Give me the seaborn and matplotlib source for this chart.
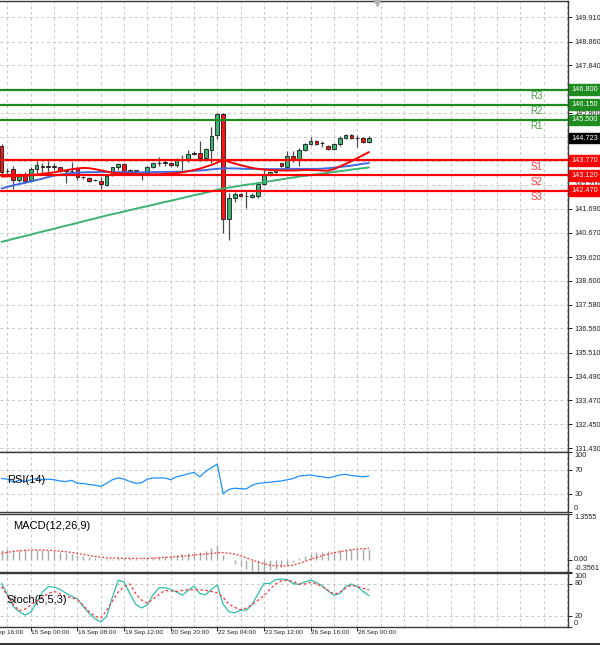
import numpy as np
import matplotlib
matplotlib.use("Agg")
import matplotlib.pyplot as plt
import matplotlib.transforms as mtransforms
from matplotlib.lines import Line2D
import seaborn as sns

# ------------------------------------------------------------------ data
bar_open = [
    144.40, 143.30, 143.38, 142.92, 143.17, 142.92, 143.38, 143.54, 143.47, 143.54,
    143.47, 143.34, 143.30, 143.42, 143.04, 143.02, 142.92, 142.90, 142.71, 143.14,
    143.47, 143.61, 143.32, 143.32, 143.18, 143.24, 143.47, 143.64, 143.64, 143.67,
    143.57, 143.78, 143.78, 144.10, 144.09, 143.85, 144.20, 144.85, 145.74, 141.23,
    142.14, 142.32, 142.24, 142.20, 142.25, 142.75, 143.16, 143.25, 143.64, 143.50,
    143.95, 143.78, 144.20, 144.47, 144.60, 144.50, 144.38, 144.27, 144.45, 144.73,
    144.86, 144.74, 144.72, 144.55]
bar_high = [
    144.45, 143.45, 143.52, 143.24, 143.25, 143.47, 143.74, 143.67, 143.74, 143.64,
    143.50, 143.38, 143.71, 143.50, 143.10, 143.05, 142.95, 143.04, 143.17, 143.50,
    143.67, 143.64, 143.38, 143.36, 143.21, 143.54, 143.67, 143.90, 143.78, 143.70,
    143.85, 144.00, 144.21, 144.16, 144.60, 144.30, 145.20, 145.80, 145.78, 142.35,
    142.40, 142.35, 142.50, 142.35, 142.85, 143.45, 143.30, 143.38, 143.66, 144.18,
    144.18, 144.30, 144.50, 144.75, 144.65, 144.60, 144.42, 144.50, 144.80, 144.90,
    144.88, 144.85, 144.77, 144.80]
bar_low = [
    143.15, 143.10, 142.55, 142.85, 142.80, 142.88, 143.24, 143.24, 143.28, 143.35,
    143.28, 142.78, 143.14, 142.92, 142.98, 142.85, 142.90, 142.55, 142.66, 143.10,
    143.35, 143.18, 143.18, 143.28, 142.92, 143.20, 143.44, 143.52, 143.52, 143.50,
    143.50, 143.35, 143.71, 143.98, 143.75, 143.78, 143.65, 144.70, 140.66, 140.35,
    141.99, 142.20, 141.73, 142.15, 142.15, 142.70, 143.10, 143.22, 143.50, 143.35,
    143.70, 143.52, 144.15, 144.42, 144.42, 144.35, 144.20, 144.22, 144.40, 144.70,
    144.70, 144.35, 144.50, 144.50]
bar_close = [
    143.28, 143.32, 142.92, 143.17, 142.90, 143.38, 143.57, 143.47, 143.54, 143.47,
    143.32, 143.31, 143.32, 143.04, 143.07, 142.88, 142.92, 142.74, 143.10, 143.47,
    143.60, 143.32, 143.33, 143.34, 143.20, 143.47, 143.64, 143.65, 143.71, 143.57,
    143.81, 143.84, 144.04, 144.02, 143.85, 144.25, 144.80, 145.74, 141.23, 142.14,
    142.32, 142.24, 142.25, 142.28, 142.75, 143.16, 143.27, 143.35, 143.52, 143.95,
    143.78, 144.21, 144.45, 144.60, 144.46, 144.49, 144.27, 144.45, 144.73, 144.86,
    144.73, 144.73, 144.55, 144.72]

ma_fast = [  # red
    143.07, 143.08, 143.08, 143.09, 143.11, 143.13, 143.16, 143.19, 143.22, 143.25,
    143.30, 143.34, 143.38, 143.42, 143.44, 143.43, 143.39, 143.34, 143.29, 143.24,
    143.21, 143.20, 143.19, 143.18, 143.17, 143.17, 143.17, 143.17, 143.19, 143.20,
    143.22, 143.25, 143.30, 143.35, 143.41, 143.49, 143.57, 143.67, 143.78, 143.70,
    143.63, 143.56, 143.50, 143.44, 143.40, 143.37, 143.35, 143.34, 143.33, 143.33,
    143.33, 143.34, 143.35, 143.35, 143.34, 143.33, 143.32, 143.39, 143.50, 143.61,
    143.73, 143.86, 143.99, 144.12]
ma_mid = [  # blue
    142.56, 142.63, 142.69, 142.75, 142.80, 142.86, 142.92, 142.98, 143.05, 143.11,
    143.15, 143.19, 143.22, 143.24, 143.25, 143.26, 143.26, 143.27, 143.27, 143.26,
    143.26, 143.26, 143.25, 143.25, 143.25, 143.26, 143.26, 143.27, 143.27, 143.27,
    143.28, 143.28, 143.30, 143.32, 143.33, 143.35, 143.38, 143.40, 143.43, 143.42,
    143.42, 143.41, 143.40, 143.40, 143.39, 143.39, 143.39, 143.39, 143.39, 143.40,
    143.40, 143.40, 143.40, 143.40, 143.40, 143.41, 143.43, 143.45, 143.48, 143.51,
    143.54, 143.58, 143.62, 143.65]
ma_slow = [  # green
    140.27, 140.33, 140.40, 140.46, 140.52, 140.58, 140.65, 140.71, 140.77, 140.83,
    140.90, 140.96, 141.02, 141.08, 141.15, 141.21, 141.27, 141.34, 141.40, 141.46,
    141.51, 141.57, 141.63, 141.69, 141.75, 141.80, 141.86, 141.92, 141.98, 142.03,
    142.09, 142.15, 142.21, 142.27, 142.32, 142.38, 142.44, 142.50, 142.56, 142.60,
    142.64, 142.68, 142.72, 142.75, 142.79, 142.83, 142.87, 142.91, 142.95, 142.99,
    143.03, 143.07, 143.10, 143.13, 143.17, 143.20, 143.23, 143.27, 143.30, 143.33,
    143.37, 143.40, 143.43, 143.46]

rsi_values = [
    56, 55, 50, 53, 51, 54, 56, 54, 55, 54,
    52, 51, 53, 48, 48, 46, 45, 43, 48, 54,
    57, 55, 51, 48, 49, 55, 57, 57, 57, 54,
    59, 61, 64, 66, 59, 68, 74, 80, 31, 38,
    40, 39, 39, 45, 48, 49, 50, 51, 52, 54,
    56, 60, 61, 62, 60, 59, 57, 59, 62, 63,
    61, 60, 59, 60]

macd_main = [
    0.30, 0.31, 0.30, 0.29, 0.28, 0.29, 0.30, 0.29, 0.28, 0.26,
    0.23, 0.20, 0.17, 0.13, 0.10, 0.07, 0.04, 0.01, 0.01, 0.03,
    0.06, 0.06, 0.04, 0.03, 0.02, 0.04, 0.07, 0.09, 0.11, 0.11,
    0.14, 0.16, 0.20, 0.23, 0.22, 0.27, 0.34, 0.44, 0.15, -0.02,
    -0.12, -0.20, -0.27, -0.33, -0.35, -0.33, -0.30, -0.27, -0.22, -0.15,
    -0.07, 0.05, 0.12, 0.18, 0.22, 0.24, 0.25, 0.27, 0.29, 0.31,
    0.32, 0.33, 0.33, 0.33]
macd_signal = [
    0.19, 0.22, 0.25, 0.27, 0.28, 0.29, 0.29, 0.29, 0.28, 0.27,
    0.26, 0.24, 0.22, 0.19, 0.16, 0.13, 0.10, 0.08, 0.06, 0.05,
    0.05, 0.04, 0.04, 0.04, 0.04, 0.04, 0.05, 0.06, 0.07, 0.08,
    0.09, 0.11, 0.12, 0.14, 0.16, 0.17, 0.19, 0.21, 0.21, 0.20,
    0.17, 0.12, 0.06, -0.01, -0.07, -0.12, -0.16, -0.18, -0.19, -0.18,
    -0.16, -0.11, -0.05, 0.01, 0.07, 0.12, 0.17, 0.21, 0.24, 0.27,
    0.30, 0.32, 0.33, 0.34]

stoch_main = [
    81, 60, 38, 28, 22, 27, 45, 65, 75, 74,
    70, 63, 57, 52, 38, 25, 15, 9, 19, 55,
    87, 84, 62, 42, 35, 41, 60, 73, 73, 70,
    65, 59, 68, 76, 62, 60, 70, 78, 42, 28,
    26, 31, 31, 42, 62, 81, 81, 88, 89, 88,
    81, 79, 84, 87, 83, 76, 67, 59, 62, 75,
    80, 75, 66, 58]
stoch_signal = [
    75, 58, 42, 30, 33, 40, 48, 55, 62, 66,
    62, 57, 54, 51, 40, 28, 20, 16, 30, 48,
    65, 75, 80, 62, 50, 44, 52, 60, 68, 67,
    66, 68, 69, 69, 69, 68, 66, 63, 55, 42,
    36, 32, 35, 41, 50, 58, 70, 80, 86, 87,
    85, 80, 80, 83, 80, 75, 68, 61, 64, 72,
    78, 75, 72, 69]

price_ticks = [149.910, 148.860, 147.840, 146.800, 145.800, 144.760, 143.730,
               142.710, 141.690, 140.670, 139.620, 138.600, 137.580, 136.560,
               135.510, 134.490, 133.470, 132.450, 131.430]
# tick labels fully covered by the level/price boxes in the reference
covered_ticks = [146.800, 144.760, 143.730]
resistance_levels = [146.800, 146.150, 145.500]
resistance_names = ["R3", "R2", "R1"]
support_levels = [143.770, 143.120, 142.470]
support_names = ["S1", "S2", "S3"]
last_price = 144.723

time_labels = ["14 Sep 16:00", "15 Sep 00:00", "16 Sep 08:00", "19 Sep 12:00",
               "20 Sep 20:00", "22 Sep 04:00", "23 Sep 12:00", "26 Sep 16:00",
               "28 Sep 00:00"]
time_label_bars = [-3, 5, 13, 21, 29, 37, 45, 53, 61]

rsi_ticks = [0, 30, 70, 100]
macd_ticks = [-0.3561, 0.0, 1.3555]
macd_tick_labels = ["-0.3561", "0.00", "1.3555"]
stoch_ticks = [0, 20, 80, 100]

# ------------------------------------------------------------------ style
sns.set_style("white")
plt.rcParams['font.family'] = ['Liberation Sans', 'DejaVu Sans']

W, H = 600, 645
fig = plt.figure(figsize=(W / 100, H / 100), dpi=100)
fig.patch.set_facecolor('white')


def rect(x0, y0, x1, y1):
    return [x0 / W, 1 - y1 / H, (x1 - x0) / W, (y1 - y0) / H]


PLOT_RIGHT = 568
ax_main = fig.add_axes(rect(0, 0.5, PLOT_RIGHT, 452))
ax_rsi = fig.add_axes(rect(0, 452, PLOT_RIGHT, 512.3), sharex=ax_main)
ax_macd = fig.add_axes(rect(0, 514.3, PLOT_RIGHT, 571.7), sharex=ax_main)
ax_sto = fig.add_axes(rect(0, 573.3, PLOT_RIGHT, 626.7), sharex=ax_main)
axes = [ax_main, ax_rsi, ax_macd, ax_sto]

bars = np.arange(len(bar_close))
BAR_PX = 5.83
x_left = -1.6 / BAR_PX
x_right = x_left + PLOT_RIGHT / BAR_PX

GRID = dict(color='#c9c9c9', lw=0.7, ls=(0, (3, 3)), zorder=0)
EDGE = '#3a3a3a'
TICK_FS = 5.3

for ax in axes:
    ax.set_facecolor('white')
    for s in ['top', 'bottom', 'right']:
        ax.spines[s].set_visible(True)
        ax.spines[s].set_color(EDGE)
        ax.spines[s].set_linewidth(1.0)
    ax.spines['left'].set_visible(False)
    ax.yaxis.tick_right()
    ax.tick_params(axis='y', which='both', direction='out', length=3, width=0.7,
                   colors='#222222', labelsize=TICK_FS, pad=1.5, right=True,
                   left=False, labelright=True, labelleft=False)
    ax.tick_params(axis='x', bottom=False, labelbottom=False, top=False)
    for gx in np.arange(1, x_right, 4):
        ax.axvline(gx, **GRID)

# ------------------------------------------------------------------ main
o = np.array(bar_open)
c = np.array(bar_close)
up = c >= o
ax_main.vlines(bars, bar_low, bar_high, color='#4a4a4a', lw=0.9, zorder=3)
ax_main.bar(bars, np.maximum(np.abs(c - o), 0.012), bottom=np.minimum(o, c),
            width=0.64, color=np.where(up, '#3cb371', '#ff1414'),
            edgecolor='#1a1a1a', linewidth=0.6, zorder=4)

sns.lineplot(x=bars, y=ma_slow, ax=ax_main, color='#3cb371', linewidth=1.4,
             errorbar=None, zorder=5)
sns.lineplot(x=bars, y=ma_mid, ax=ax_main, color='#4169e1', linewidth=1.4,
             errorbar=None, zorder=5)
sns.lineplot(x=bars, y=ma_fast, ax=ax_main, color='#ff0000', linewidth=1.4,
             errorbar=None, zorder=5)

for v in price_ticks:
    ax_main.axhline(v, **GRID)
ax_main.set_yticks(price_ticks)
ax_main.set_yticklabels(["" if v in covered_ticks else f"{v:.3f}" for v in price_ticks])
ax_main.set_ylim(131.26, 150.62)

trans_main = mtransforms.blended_transform_factory(ax_main.transAxes, ax_main.transData)
trans_name = trans_main + mtransforms.ScaledTranslation(0, -1.5 / 100, fig.dpi_scale_trans)

GREEN_LVL = '#1f8c1f'
RED_LVL = '#ff0000'
for lvl, name in zip(resistance_levels, resistance_names):
    ax_main.axhline(lvl, color=GREEN_LVL, lw=1.6, zorder=6)
    ax_main.text(0.945, lvl, name, transform=trans_name, ha='center', va='top',
                 fontsize=7, color='#46a046', zorder=7)
    ax_main.text(1.0053, lvl, f"{lvl:.3f}", transform=trans_main, ha='left',
                 va='center', fontsize=TICK_FS, color='white', zorder=20,
                 clip_on=False,
                 bbox=dict(boxstyle='square,pad=0.25', fc=GREEN_LVL, ec=GREEN_LVL))
for lvl, name in zip(support_levels, support_names):
    ax_main.axhline(lvl, color=RED_LVL, lw=1.6, zorder=6)
    ax_main.text(0.945, lvl, name, transform=trans_name, ha='center', va='top',
                 fontsize=7, color='#ff4040', zorder=7)
    ax_main.text(1.0053, lvl, f"{lvl:.3f}", transform=trans_main, ha='left',
                 va='center', fontsize=TICK_FS, color='white', zorder=20,
                 clip_on=False,
                 bbox=dict(boxstyle='square,pad=0.25', fc=RED_LVL, ec=RED_LVL))
ax_main.text(1.0053, last_price, f"{last_price:.3f}", transform=trans_main,
             ha='left', va='center', fontsize=TICK_FS, color='white', zorder=21,
             clip_on=False, bbox=dict(boxstyle='square,pad=0.25', fc='black', ec='black'))

# chart-shift marker at top
trans_top = mtransforms.blended_transform_factory(ax_main.transData, ax_main.transAxes)
ax_main.plot([len(bars) + 0.4], [0.995], transform=trans_top, marker='v', ms=4,
             color='#b0b0b0', clip_on=False, zorder=8)

# ------------------------------------------------------------------ RSI
sns.lineplot(x=bars, y=rsi_values, ax=ax_rsi, color='#1e90ff', linewidth=0.9,
             errorbar=None, zorder=3)
ax_rsi.set_ylim(0, 100)
for v in (30, 70):
    ax_rsi.axhline(v, **GRID)
ax_rsi.set_yticks(rsi_ticks)
ax_rsi.set_yticklabels([str(v) for v in rsi_ticks])
for lbl, va in zip(ax_rsi.get_yticklabels(), ['bottom', 'center', 'center', 'top']):
    lbl.set_va(va)
ax_rsi.text(0.012, 0.535, "RSI(14)", transform=ax_rsi.transAxes, fontsize=8,
            ha='left', va='center', color='black', zorder=6)

# ------------------------------------------------------------------ MACD
ax_macd.vlines(bars, 0, macd_main, color='#a8a8a8', lw=1.0, zorder=2)
sns.lineplot(x=bars, y=macd_signal, ax=ax_macd, color='#ff3030', linewidth=0.9,
             linestyle=(0, (1.5, 1.5)), errorbar=None, zorder=3)
ax_macd.set_ylim(-0.3561, 1.3555)
ax_macd.set_yticks(macd_ticks)
ax_macd.set_yticklabels(macd_tick_labels)
for lbl, va in zip(ax_macd.get_yticklabels(), ['bottom', 'center', 'top']):
    lbl.set_va(va)
ax_macd.text(0.023, 0.80, "MACD(12,26,9)", transform=ax_macd.transAxes, fontsize=8,
             ha='left', va='center', color='black', zorder=6)

# ------------------------------------------------------------------ Stochastic
sns.lineplot(x=bars, y=stoch_main, ax=ax_sto, color='#2ebfae', linewidth=0.9,
             errorbar=None, zorder=3)
sns.lineplot(x=bars, y=stoch_signal, ax=ax_sto, color='#ff3030', linewidth=0.9,
             linestyle=(0, (2, 2)), errorbar=None, zorder=4)
ax_sto.set_ylim(0, 100)
for v in (20, 80):
    ax_sto.axhline(v, **GRID)
ax_sto.set_yticks(stoch_ticks)
ax_sto.set_yticklabels([str(v) for v in stoch_ticks])
for lbl, va in zip(ax_sto.get_yticklabels(), ['bottom', 'center', 'center', 'top']):
    lbl.set_va(va)
ax_sto.text(0.012, 0.50, "Stoch(5,5,3)", transform=ax_sto.transAxes, fontsize=8,
            ha='left', va='center', color='black', zorder=6)

# x ticks + labels
ax_sto.set_xticks([b for b in time_label_bars if b >= x_left])
ax_sto.tick_params(axis='x', bottom=True, labelbottom=False, length=3, width=0.7,
                   direction='out', colors='#222222')
trans_x = mtransforms.blended_transform_factory(ax_sto.transData, ax_sto.transAxes)
for b, lab in zip(time_label_bars, time_labels):
    ax_sto.text(b + 0.1, -0.055, lab, transform=trans_x, ha='left', va='top',
                fontsize=4.6, color='#222222', clip_on=False)

for ax in axes:
    ax.set_xlabel('')
    ax.set_ylabel('')
ax_main.set_xlim(x_left, x_right)

fig.add_artist(Line2D([0, 1], [1 - 643.5 / H] * 2, transform=fig.transFigure,
                      color='#3a3a3a', lw=1.5))

fig.savefig("out.png", dpi=100, facecolor='white')
